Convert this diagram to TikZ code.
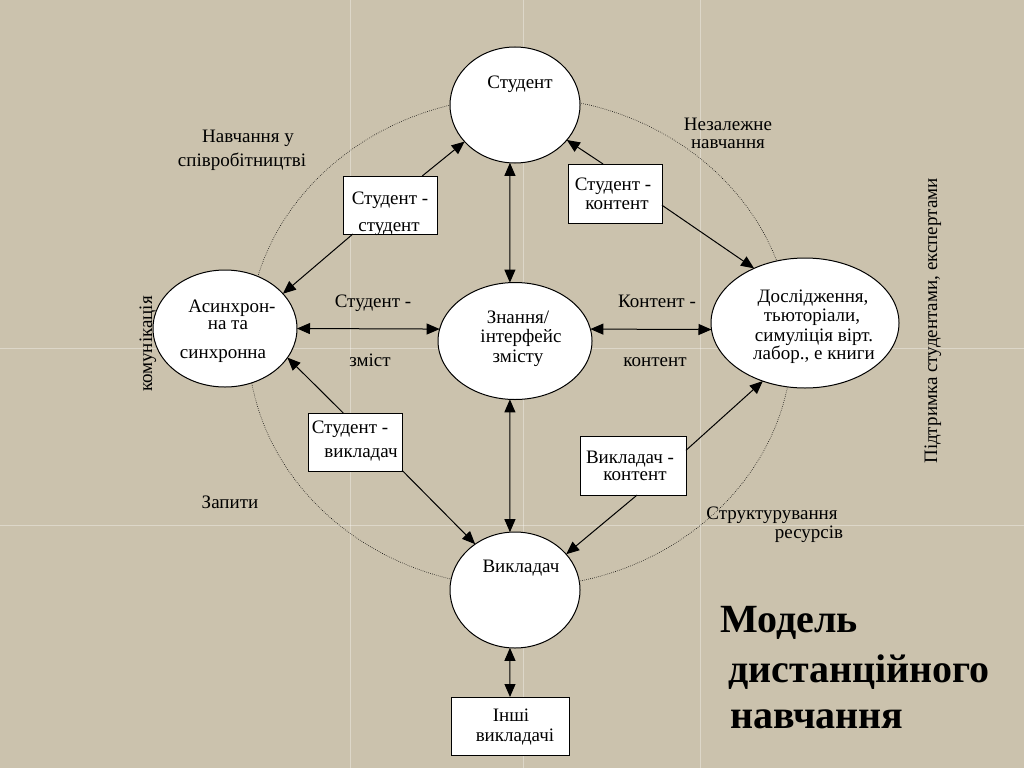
\documentclass[tikz,border=0pt]{standalone}
\usepackage{fontspec}
\setmainfont{Liberation Serif}
\usetikzlibrary{shapes.geometric,arrows.meta}
\definecolor{canvas}{RGB}{203,194,173}
\newcommand\lbf{\fontsize{19}{22}\selectfont}
\begin{document}
\begin{tikzpicture}[x=1pt,y=-1pt,
  ellip/.style={ellipse, draw, fill=white, line width=1pt, inner sep=0pt, outer sep=0pt},
  box/.style={rectangle, draw, fill=white, line width=1pt, inner sep=0pt, outer sep=0pt},
  arr/.style={-{Triangle[length=13pt,width=11pt]}, line width=1pt},
  darr/.style={{Triangle[length=13pt,width=11pt]}-{Triangle[length=13pt,width=11pt]}, line width=1pt},
  t/.style={anchor=base, inner sep=0pt, font=\lbf},
  ttl/.style={anchor=base west, inner sep=0pt, font=\bfseries\fontsize{40}{44}\selectfont},
  seam/.style={white, opacity=0.35, line width=1pt}]
\useasboundingbox (0,0) rectangle (1024,768);
\fill[canvas] (0,0) rectangle (1024,768);
\draw[seam] (350,0) -- (350,768);
\draw[seam] (523,0) -- (523,768);
\draw[seam] (700,0) -- (700,768);
\draw[seam] (0,348) -- (1024,348);
\draw[seam] (0,525) -- (1024,525);
\draw[line width=0.6pt, dash pattern=on 0.6pt off 1.4pt] (520,342) ellipse [x radius=272pt, y radius=245pt];

\node[ellip, minimum width=130pt, minimum height=116pt] (stu) at (515,105) {};
\node[ellip, minimum width=154pt, minimum height=117pt] (know) at (515,341) {};
\node[ellip, minimum width=144pt, minimum height=117pt] (asy) at (225,328.5) {};
\node[ellip, minimum width=188pt, minimum height=130pt] (res) at (805,323) {};
\node[ellip, minimum width=130pt, minimum height=116pt] (tea) at (515,590) {};
\node[box, minimum width=118pt, minimum height=58pt] (oth) at (510,726) {};
\node[box, minimum width=94pt, minimum height=58pt] (ss) at (390,205) {};
\node[box, minimum width=94pt, minimum height=59pt] (sc) at (615,193.5) {};
\node[box, minimum width=94pt, minimum height=58pt] (st) at (355,442) {};
\node[box, minimum width=106pt, minimum height=59pt] (tc) at (633,465.5) {};

\draw[arr] (ss.42) -- (stu.216);
\draw[arr] (ss.218) -- (asy.31);
\draw[darr] (stu.-95) -- (know.95);
\draw[darr] (asy.east) -- (know.171);
\draw[darr] (know.9) -- (res.184);
\draw[arr] (sc.112) -- (stu.-34);
\draw[arr] (sc.-14) -- (res.133);
\draw[arr] (tc.16) -- (res.234);
\draw[arr] (tc.-82) -- (tea.35);
\draw[darr] (know.-95) -- (tea.95);
\draw[arr] (st.-31) -- (tea.131);
\draw[arr] (st.112) -- (asy.-25);
\draw[darr] (tea.-95) -- (oth.north);

\node[t] (tStu) at (520,88) {Студент};
\node[t] (tNa1) at (248,142) {Навчання у};
\node[t] (tNa2) at (242,166) {співробітництві};
\node[t] (tSs1) at (390,204) {Студент -};
\node[t] (tSs2) at (389,231) {студент};
\node[t] (tAs1) at (232,312) {Асинхрон-};
\node[t] (tAs2) at (228,329) {на та};
\node[t] (tAs3) at (223,358) {синхронна};
\node[t] (tSz1) at (373,307) {Студент -};
\node[t] (tSz2) at (370,366) {зміст};
\node[t] (tKn1) at (518,323) {Знання/};
\node[t] (tKn2) at (521,342) {інтерфейс};
\node[t] (tKn3) at (518,362) {змісту};
\node[t] (tNz1) at (728,130) {Незалежне};
\node[t] (tNz2) at (728,148) {навчання};
\node[t] (tSc1) at (613,190) {Студент -};
\node[t] (tSc2) at (617,209) {контент};
\node[t] (tKk1) at (657,307) {Контент -};
\node[t] (tKk2) at (655,366) {контент};
\node[t] (tRe1) at (813,302) {Дослідження,};
\node[t] (tRe2) at (812,321) {тьюторіали,};
\node[t] (tRe3) at (814,341) {симуліція вірт.};
\node[t] (tRe4) at (814,359) {лабор., е книги};
\node[t] (tSt1) at (350,433) {Студент -};
\node[t] (tSt2) at (361,457) {викладач};
\node[t] (tZap) at (230,508) {Запити};
\node[t] (tTea) at (521,572) {Викладач};
\node[t] (tOt1) at (511,721) {Інші};
\node[t] (tOt2) at (515,741) {викладачі};
\node[t] (tTc1) at (630,463) {Викладач -};
\node[t] (tTc2) at (635,480) {контент};
\node[t] (tSr1) at (772,519) {Структурування};
\node[t] (tSr2) at (809,538) {ресурсів};
\node[t, rotate=90] (tPid) at (937,321) {Підтримка студентами, експертами};
\node[t, rotate=90] (tKom) at (152,344) {комунікація};
\node[ttl] (h1) at (720,632) {Модель};
\node[ttl] (h2) at (728,682) {дистанційного};
\node[ttl] (h3) at (730,728) {навчання};
\end{tikzpicture}
\end{document}
